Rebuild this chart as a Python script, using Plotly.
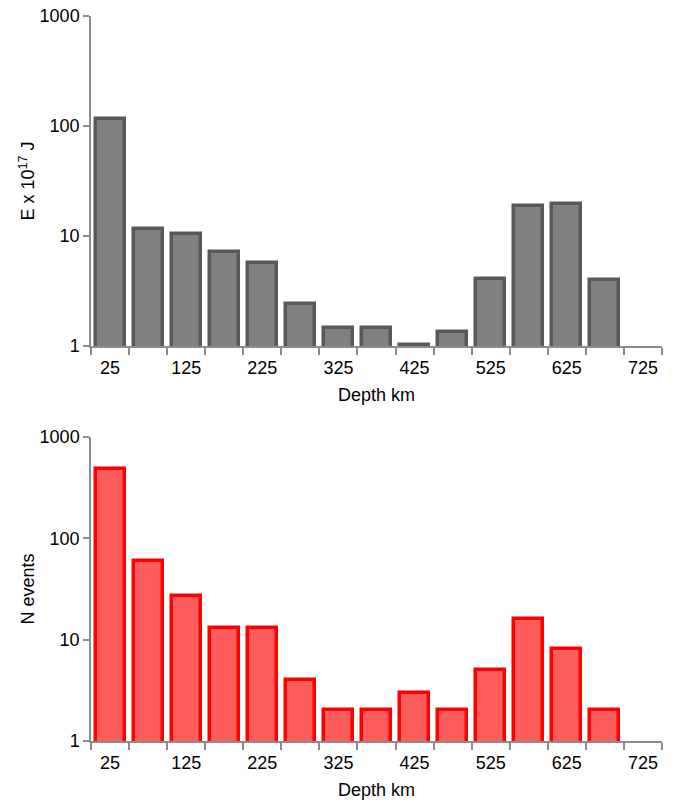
import plotly.graph_objects as go
from plotly.subplots import make_subplots

# Depth bins (km, bin centres, 50 km wide)
depth_km = [25, 75, 125, 175, 225, 275, 325, 375, 425, 475, 525, 575, 625, 675, 725]

# Released energy per bin, in units of 10^17 J
energy_e17 = [115, 11.5, 10.5, 7.1, 5.7, 2.43, 1.46, 1.46, 1.02, 1.35, 4.08, 18.9, 19.7, 4.0, None]

# Number of events per bin
n_events = [480, 60, 27, 13, 13, 4, 2, 2, 3, 2, 5, 16, 8, 2, None]

x_label_vals = [25, 125, 225, 325, 425, 525, 625, 725]
bin_edges = list(range(0, 751, 50))
y_tick_vals = [1, 10, 100, 1000]

FONT = "Liberation Sans, Arial, Helvetica, sans-serif"
FSIZE = 18
AXIS_GREY = "#8c8c8c"

fig = make_subplots(rows=2, cols=1, vertical_spacing=0.0)

fig.add_trace(go.Bar(
    x=depth_km, y=energy_e17, width=38,
    marker=dict(color="#808080", line=dict(color="#585858", width=3.5)),
    showlegend=False,
), row=1, col=1)

fig.add_trace(go.Bar(
    x=depth_km, y=n_events, width=38,
    marker=dict(color="#ff5c5c", line=dict(color="#ff0000", width=3.5)),
    showlegend=False,
), row=2, col=1)

xaxis_style = dict(
    range=[0, 750], showgrid=False, zeroline=False, automargin=False,
    showline=True, linecolor=AXIS_GREY, linewidth=1.5,
    tickmode="array", tickvals=x_label_vals, ticktext=[str(v) for v in x_label_vals],
    ticks="outside", ticklen=5, tickcolor="rgba(0,0,0,0)",
    minor=dict(tickmode="array", tickvals=bin_edges, ticks="outside",
               ticklen=7, tickcolor=AXIS_GREY, tickwidth=1.5, showgrid=False),
    tickfont=dict(family=FONT, size=FSIZE, color="black"),
    title=dict(text="Depth km", font=dict(family=FONT, size=FSIZE, color="black"), standoff=11),
)

yaxis_style = dict(
    type="log", range=[0, 3], showgrid=False, zeroline=False, automargin=False,
    showline=True, linecolor=AXIS_GREY, linewidth=1.5,
    tickmode="array", tickvals=y_tick_vals, ticktext=[str(v) for v in y_tick_vals],
    ticks="outside", ticklen=6, tickcolor=AXIS_GREY, tickwidth=1.5,
    tickfont=dict(family=FONT, size=FSIZE, color="black"),
)

fig.update_xaxes(**xaxis_style)
fig.update_yaxes(**yaxis_style)

fig.update_layout(
    width=676, height=803,
    margin=dict(l=91, r=14, t=16, b=62, autoexpand=False),
    plot_bgcolor="white", paper_bgcolor="white",
    bargap=0,
    xaxis=dict(domain=[0, 1]),
    xaxis2=dict(domain=[0, 1]),
    yaxis=dict(domain=[0.5448, 1.0],
               title=dict(text="E x 10<sup>17</sup> J",
                          font=dict(family=FONT, size=FSIZE, color="black"), standoff=0)),
    yaxis2=dict(domain=[0.0, 0.4193],
                title=dict(text="N events",
                           font=dict(family=FONT, size=FSIZE, color="black"), standoff=0)),
)

fig.write_html("out.html")
